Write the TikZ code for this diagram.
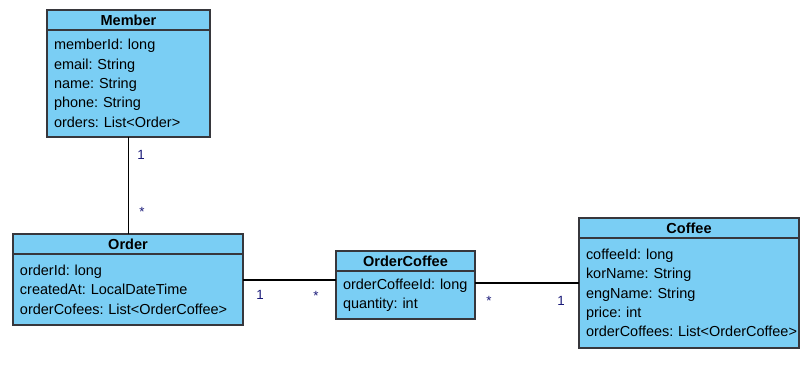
\documentclass[tikz,border=0pt]{standalone}
\usepackage{fontspec}
\setmainfont{Liberation Sans}
\usetikzlibrary{positioning}

\newlength{\pxu}
\setlength{\pxu}{0.75pt}

\definecolor{classfill}{RGB}{122,206,244}
\definecolor{classline}{RGB}{55,55,60}
\definecolor{multcol}{RGB}{25,25,120}

\tikzset{
    classhead/.style={draw=classline, fill=classfill, line width=1.1pt,
        anchor=north west, minimum height=20\pxu, inner sep=0pt, outer sep=0pt,
        font=\fontsize{10.9}{11}\selectfont\bfseries},
    classbody/.style={draw=classline, fill=classfill, line width=1.1pt,
        below=0pt of #1, align=left, inner xsep=7\pxu, inner ysep=0pt, outer sep=0pt,
        font=\fontsize{10.85}{14.5}\selectfont\frenchspacing},
    mult/.style={text=multcol, font=\fontsize{10}{11}\selectfont}
}

\begin{document}
\begin{tikzpicture}[x=0.75pt, y=-0.75pt]

    % Frame
    \useasboundingbox (0,0) rectangle (811,366);

    % Member
    \node[classhead, minimum width=163\pxu] (mhead) at (47,10) {Member};
    \node[classbody=mhead, minimum width=163\pxu, minimum height=107\pxu,
        text width=149\pxu] (mbody)
        {memberId: long\\email: String\\name: String\\phone: String\\orders: List<Order>};

    % Order
    \node[classhead, minimum width=230\pxu] (ohead) at (13,234) {Order};
    \node[classbody=ohead, minimum width=230\pxu, minimum height=71\pxu,
        text width=216\pxu] (obody)
        {orderId: long\\createdAt: LocalDateTime\\orderCofees: List<OrderCoffee>};

    % OrderCoffee
    \node[classhead, minimum width=139\pxu] (ochead) at (336,251) {OrderCoffee};
    \node[classbody=ochead, minimum width=139\pxu, minimum height=48\pxu,
        text width=125\pxu] (ocbody)
        {orderCoffeeId: long\\quantity: int};

    % Coffee
    \node[classhead, minimum width=220\pxu] (chead) at (579,218) {Coffee};
    \node[classbody=chead, minimum width=220\pxu, minimum height=110\pxu,
        text width=206\pxu] (cbody)
        {coffeeId: long\\korName: String\\engName: String\\price: int\\\mbox{orderCoffees: List<OrderCoffee>}};

    % Associations
    \draw[line width=0.9pt] (mbody.south) -- (mbody.south |- ohead.north);
    \draw[line width=0.9pt] ([yshift=-26\pxu]obody.north east) -- ([yshift=-9\pxu]ocbody.north west);
    \draw[line width=0.9pt] ([yshift=-12\pxu]ocbody.north east) -- ([yshift=-45\pxu]cbody.north west);

    % Multiplicities
    \node[mult] (m1) at (141,155) {1};
    \node[mult] (m2) at (142,212) {*};
    \node[mult] (m3) at (260,295) {1};
    \node[mult] (m4) at (316,296) {*};
    \node[mult] (m5) at (489,301) {*};
    \node[mult] (m6) at (561,301) {1};

\end{tikzpicture}
\end{document}
